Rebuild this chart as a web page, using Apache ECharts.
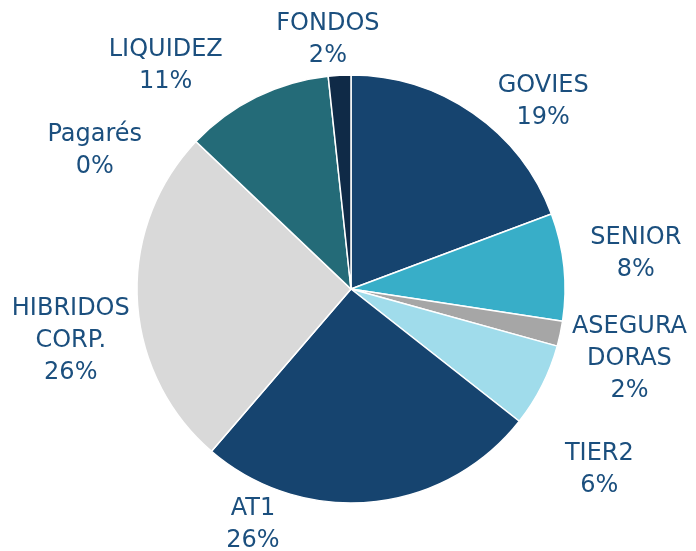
<!DOCTYPE html>
<html>
<head>
<meta charset="utf-8">
<script src="https://cdn.jsdelivr.net/npm/echarts@6/dist/echarts.min.js"></script>
<style>
  html, body { margin: 0; padding: 0; background: #fff; }
  #chart { width: 696px; height: 551px; }
</style>
</head>
<body>
<div id="chart"></div>
<script>
// categorias y valores (% de cartera), en sentido horario desde arriba
const categories = ["GOVIES", "SENIOR", "ASEGURA\nDORAS", "TIER2", "AT1", "HIBRIDOS\nCORP.", "Pagarés", "LIQUIDEZ", "FONDOS"];
const values = [19.3, 8.1, 1.9, 6.3, 25.7, 25.8, 0, 11.2, 1.7];
const colors = ["#16446f", "#38aec8", "#a6a6a6", "#a0dceb", "#16446f", "#d9d9d9", "#7f7f7f", "#246b78", "#0f2a47"];

// geometria del pie
const cx = 351, cy = 289, r = 214;
// posicion de etiquetas: [angulo desde arriba (grados), distancia al centro]
const labelSpots = [[45.8, 268], [83, 287], [104, 287], [126, 307], [202.6, 255], [259.5, 285], [298.3, 291], [320.3, 290], [354.7, 250]];

const chart = echarts.init(document.getElementById("chart"));

const option = {
  animation: false,
  series: [
    {
      type: "pie",
      center: [cx, cy],
      radius: r,
      startAngle: 90,
      clockwise: true,
      avoidLabelOverlap: false,
      data: categories.map((name, i) => ({
        name: name,
        value: values[i],
        itemStyle: { color: colors[i] }
      })),
      itemStyle: {
        borderColor: "#ffffff",
        borderWidth: 1.5
      },
      label: {
        show: true,
        position: "outside",
        formatter: (p) => p.name + "\n" + Math.round(p.percent) + "%",
        color: "#1b4f7e",
        fontFamily: "DejaVu Sans",
        fontSize: 24,
        lineHeight: 32,
        align: "center"
      },
      labelLine: { show: false },
      labelLayout: (params) => {
        const s = labelSpots[params.dataIndex];
        const a = s[0] * Math.PI / 180;
        return {
          x: cx + s[1] * Math.sin(a),
          y: cy - s[1] * Math.cos(a),
          align: "center",
          verticalAlign: "middle"
        };
      }
    }
  ]
};

chart.setOption(option);
</script>
</body>
</html>
